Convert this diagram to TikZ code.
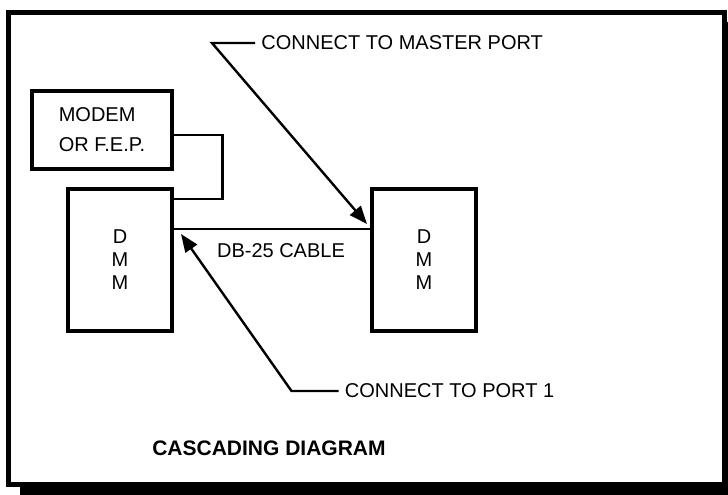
\documentclass[tikz,border=0pt]{standalone}
\usepackage{fontspec}
\setmainfont{Liberation Sans}
\usetikzlibrary{positioning, arrows.meta, calc}
\tikzset{
  unit/.style={
    draw, line width=2pt, fill=white,
    minimum width=52pt, minimum height=71pt,
    align=center, font=\fontsize{10}{11.5}\selectfont
  },
  modembox/.style={
    draw, line width=2pt, fill=white,
    minimum width=70pt, minimum height=39pt,
    align=left, font=\fontsize{10}{15}\selectfont
  },
  wire/.style={line width=1.2pt},
  pointer/.style={line width=1.2pt, -{Triangle[length=9pt, width=7pt]}},
  lbl/.style={font=\fontsize{10}{12}\selectfont, inner sep=3pt},
  frame/.style={line width=2.5pt, fill=white}
}

\begin{document}
\begin{tikzpicture}[x=0.5pt, y=-0.5pt]
\useasboundingbox (0,0) rectangle (728,494);
\clip (0,0) rectangle (728,494);

%% page frame with drop shadow
\fill[black] (20,22) rectangle (740,500);
\draw[frame] (8.5,12.5) rectangle (724,484);

%% units
\node[modembox] (modem) at (102,130) {MODEM\\OR F.E.P.};
\node[unit] (dmmL) at (120,260) {D\\M\\M};
\node[unit, right=98pt of dmmL] (dmmR) {D\\M\\M};

%% modem to first DMM
\draw[wire] ($(modem.east)+(0,5)$) -- ++(48.5,0) |- ($(dmmL.north east)+(0,12)$);

%% DB-25 cable between the two DMMs
\draw[wire] ($(dmmL.north east)+(0,42)$) coordinate (cabL) -- (cabL -| dmmR.west);
\node[lbl] (cable) at (281,251) {DB-25 CABLE};

%% callouts
\node[lbl, anchor=west] (master) at (255,43) {CONNECT TO MASTER PORT};
\draw[pointer] (master.west) -- ++(-43,0) -- ($(dmmR.north west)+(-3,37)$);

\node[lbl, anchor=west] (port) at (338.5,391) {CONNECT TO PORT 1};
\draw[pointer] (port.west) -- ++(-47,0) -- ($(dmmL.north east)+(7,47)$);

%% caption
\node[font=\fontsize{10.5}{12}\selectfont\bfseries] (caption) at (269,448) {CASCADING DIAGRAM};
\end{tikzpicture}
\end{document}
